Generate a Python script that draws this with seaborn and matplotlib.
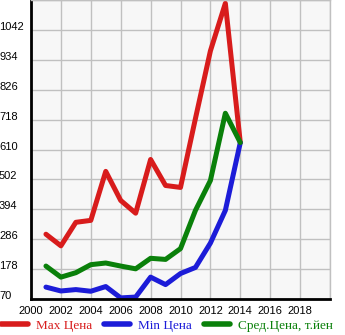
import matplotlib
matplotlib.use("Agg")
import matplotlib.pyplot as plt
import matplotlib.transforms as mtransforms
import seaborn as sns
import pandas as pd

years = list(range(2001, 2015))
max_price = [304, 262, 347, 354, 531, 426, 380, 574, 480, 473, 722, 966, 1138, 635]
min_price = [113, 99, 104, 98, 115, 74, 77, 149, 122, 162, 184, 272, 390, 635]
avg_price = [189, 149, 165, 194, 200, 189, 179, 217, 213, 252, 390, 498, 741, 635]
series_names = ["Max Цена", "Min Цена", "Сред.Цена, т.йен"]
colors = ["#d81c1c", "#1c1cd8", "#0a800a"]
yticks = [70, 178, 286, 394, 502, 610, 718, 826, 934, 1042]
xticks = list(range(2000, 2019, 2))

df = pd.DataFrame({
    "year": years * 3,
    "value": max_price + min_price + avg_price,
    "series": [series_names[0]] * len(years) + [series_names[1]] * len(years) + [series_names[2]] * len(years),
})

sns.set_style("whitegrid")
plt.rcParams["font.family"] = ["Liberation Sans", "DejaVu Sans"]

W, H = 345, 335
fig = plt.figure(figsize=(W / 100, H / 100), dpi=100)
ax = fig.add_axes([31 / W, (H - 299) / H, 299 / W, 299 / H])
ax.set_facecolor("#f7f7f7")

sns.lineplot(data=df, x="year", y="value", hue="series", palette=colors,
             hue_order=series_names, linewidth=3.6, ax=ax, legend=False)

ax.set_xlim(2000, 2020)
ax.set_ylim(70, 1150)
ax.set_xticks(xticks)
ax.set_xticklabels([str(x) for x in xticks])
ax.set_yticks(yticks + [1150])
ax.set_yticklabels([str(y) for y in yticks] + [""])
ax.set_xticks([2020], minor=True)
ax.grid(True, which="both", color="#c0c0c0", linewidth=1)
ax.set_xlabel("")
ax.set_ylabel("")

for s in ["top", "right"]:
    ax.spines[s].set_color("#c0c0c0")
    ax.spines[s].set_linewidth(1)
for s in ["left", "bottom"]:
    ax.spines[s].set_color("black")
    ax.spines[s].set_linewidth(2)

ax.tick_params(axis="x", length=0, pad=5, labelsize=8, colors="black")
ax.tick_params(axis="y", length=4, width=1, pad=19, labelsize=8, colors="black")
ax.tick_params(axis="x", which="minor", length=0)

offset = mtransforms.ScaledTranslation(0, 4 / 100, fig.dpi_scale_trans)
for lbl in ax.get_yticklabels():
    lbl.set_horizontalalignment("left")
    lbl.set_transform(lbl.get_transform() + offset)

handles = [plt.Line2D([0], [0], color=c, linewidth=4, solid_capstyle="round") for c in colors]
leg = fig.legend(handles, series_names, loc="lower center", bbox_to_anchor=(0.485, -0.018),
                 ncol=3, frameon=False, borderpad=0.2, handlelength=2.0, handletextpad=0.6,
                 columnspacing=0.9, prop={"family": "Liberation Serif", "size": 9.5})
for t, c in zip(leg.get_texts(), colors):
    t.set_color(c)

fig.savefig("out.png", dpi=100)
